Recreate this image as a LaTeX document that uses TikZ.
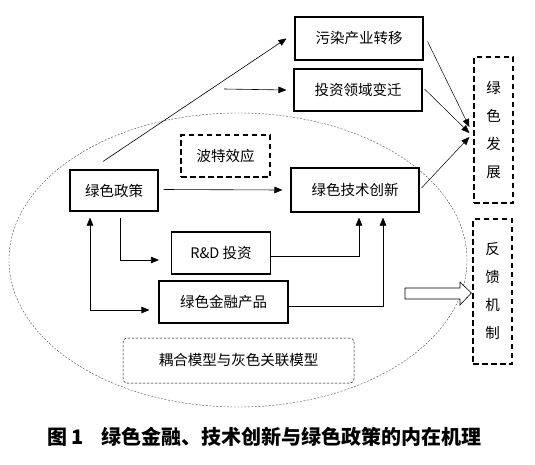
\documentclass[tikz,border=0pt]{standalone}
\usepackage{fontspec}
\setmainfont{Noto Sans CJK SC}
\usetikzlibrary{arrows.meta,calc}
\tikzset{
  box/.style={draw, line width=1.1pt, fill=white, inner sep=0pt, font=\fontsize{14.5}{16}\selectfont},
  dbox/.style={box, dash pattern=on 5.5pt off 3.5pt, line width=1.3pt},
  vbox/.style={dbox, align=center, font=\fontsize{14.5}{28}\selectfont},
  arr/.style={line width=0.6pt, -{Triangle[length=8pt,width=6.5pt]}},
  darr/.style={line width=0.6pt, {Triangle[length=8pt,width=6.5pt]}-{Triangle[length=8pt,width=6.5pt]}},
}
\begin{document}
\begin{tikzpicture}[x=1pt,y=-1pt]
    \useasboundingbox (0,0) rectangle (535,464);

    % Dotted ellipse round the inner mechanism
    \draw[line width=0.4pt, dash pattern=on 2pt off 1.5pt, black!70] (238,260) ellipse [x radius=229pt, y radius=147pt];

    % Upper rank with the two effects of the policy
    \node[box, minimum width=128pt, minimum height=43pt] (wuran) at (359,38.5) {污染产业转移};
    \node[box, minimum width=128pt, minimum height=42pt] (touzi) at (358,90) {投资领域变迁};

    % Right column with the two dashed boxes
    \node[vbox, minimum width=39pt, minimum height=146pt] (fazhan) at (493.5,130) {绿\\色\\发\\展};
    \node[vbox, minimum width=39pt, minimum height=145pt] (fankui) at (492.5,291.5) {反\\馈\\机\\制};

    % Inner rank with policy and innovation
    \node[dbox, minimum width=89pt, minimum height=42pt] (bote) at (225.5,156) {波特效应};
    \node[box, minimum width=88pt, minimum height=41pt] (zhengce) at (114,190.5) {绿色政策};
    \node[box, minimum width=128pt, minimum height=44pt] (chuangxin) at (355,190) {绿色技术创新};

    % Lower rank with investment and products
    \node[box, minimum width=99pt, minimum height=42pt] (rd) at (221,253) {R\&D 投资};
    \node[box, minimum width=129pt, minimum height=42pt] (jinrong) at (223.5,302) {绿色金融产品};

    % Model box at the bottom of the ellipse
    \node[draw, rounded corners=4pt, dash pattern=on 2.5pt off 1.5pt, line width=0.5pt,
          minimum width=231pt, minimum height=45pt, font=\fontsize{14.5}{16}\selectfont] (ouhe) at (238.5,360.5) {耦合模型与灰色关联模型};

    % Caption
    \node[anchor=west, font=\fontsize{20}{22}\selectfont\bfseries] (caption) at (44,437)
        {图\hspace{4pt}1\hspace{18pt}绿色金融、技术创新与绿色政策的内在机理};

    % Connections
    \coordinate (tz_in) at (224,89);
    \draw[arr] ($(zhengce.north)+(-11,-8)$) -- ([xshift=-8pt]wuran.west);
    \draw[arr] (tz_in) -- ([xshift=-7pt]touzi.west);
    \draw[arr] ([xshift=5pt,yshift=1pt]zhengce.east) -- ([xshift=-8pt]chuangxin.west);

    \draw[arr, line width=0.5pt] ([xshift=4pt,yshift=-3pt]wuran.east) -- ([xshift=-4pt,yshift=3pt]fazhan.west);
    \draw[arr, line width=0.5pt] ([xshift=2pt,yshift=1pt]touzi.east) -- ([xshift=-4pt,yshift=-3pt]fazhan.west);
    \draw[arr, line width=0.5pt] ([xshift=2pt,yshift=2pt]chuangxin.east) -- ([xshift=-4pt,yshift=-7pt]fazhan.west);

    \draw[arr] ([xshift=6pt,yshift=-6pt]zhengce.south) |- ([xshift=-12pt,yshift=-7pt]rd.west);
    \draw[arr] ([yshift=-3pt]rd.east) -| ([xshift=4pt,yshift=-5pt]chuangxin.south);
    \draw[arr] ([yshift=-4pt]jinrong.east) -| ([xshift=28pt,yshift=-5pt]chuangxin.south);
    \draw[darr] ([xshift=-24pt,yshift=-6pt]zhengce.south) |- ([xshift=-9pt,yshift=-8pt]jinrong.west);

    % Hollow arrow into the feedback box
    \draw[line width=0.6pt, fill=white] (405,288) -- (460,288) -- (460,282) -- ([xshift=-1pt,yshift=-1.5pt]fankui.west)
        -- (460,305) -- (460,299) -- (405,299) -- cycle;
\end{tikzpicture}
\end{document}
